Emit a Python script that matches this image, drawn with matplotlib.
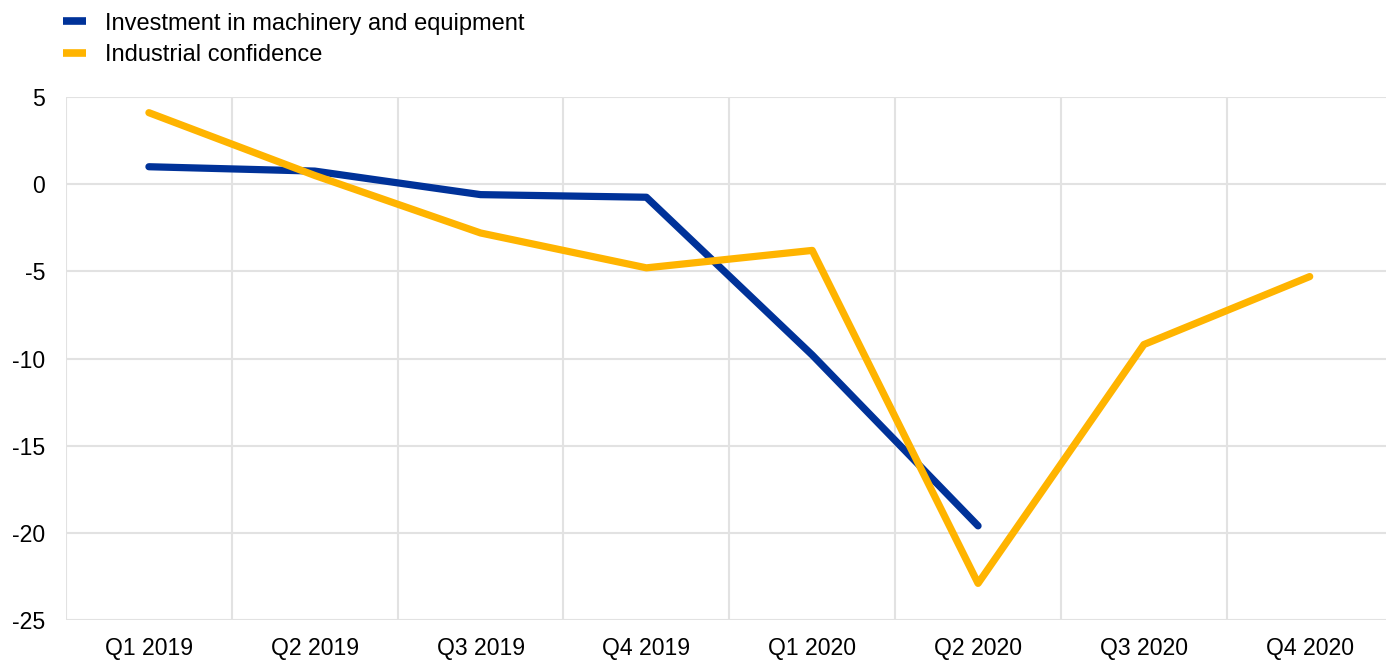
import matplotlib
matplotlib.use('Agg')
import matplotlib.pyplot as plt
import numpy as np

plt.rcParams['font.family'] = ['Liberation Sans', 'DejaVu Sans']
plt.rcParams['axes.unicode_minus'] = False

quarters = ['Q1 2019', 'Q2 2019', 'Q3 2019', 'Q4 2019',
            'Q1 2020', 'Q2 2020', 'Q3 2020', 'Q4 2020']
investment = [1.0, 0.75, -0.6, -0.75, -9.8, -19.6]
confidence = [4.1, 0.5, -2.8, -4.8, -3.8, -22.9, -9.2, -5.3]

BLUE = '#003299'
YELLOW = '#FFB400'
GRID = '#e2e2e2'

fig = plt.figure(figsize=(13.86, 6.6), dpi=100)
ax = fig.add_axes([66/1386, 1 - 620/660, 1 - 66/1386, (620-97)/660])

x = np.arange(len(quarters))
ax.plot(x[:len(investment)], investment, color=BLUE, lw=5.2,
        solid_capstyle='round', solid_joinstyle='round',
        label='Investment in machinery and equipment', zorder=3)
ax.plot(x, confidence, color=YELLOW, lw=5.2,
        solid_capstyle='round', solid_joinstyle='round',
        label='Industrial confidence', zorder=4)

ax.set_xlim(-0.5, 7.46)
ax.set_ylim(-25, 5)
ax.set_yticks(np.arange(-25, 6, 5))
ax.set_xticks(x)
ax.set_xticklabels(quarters)
ax.set_xticks(np.arange(-0.5, 7.5, 1), minor=True)

ax.grid(axis='y', which='major', color=GRID, lw=1.5)
ax.grid(axis='x', which='minor', color=GRID, lw=1.5)
ax.set_axisbelow(True)
for s in ax.spines.values():
    s.set_visible(False)
ax.tick_params(axis='both', which='both', length=0, labelsize=16.6, colors='#000000')
ax.tick_params(axis='y', pad=15)
ax.tick_params(axis='x', pad=12)

handles, labels = ax.get_legend_handles_labels()
leg = fig.legend(handles, labels, loc='upper left', bbox_to_anchor=(0.0385, 0.995),
                 frameon=False, fontsize=17, handlelength=1.0, handletextpad=0.8,
                 labelspacing=0.4, borderaxespad=0)
for line in leg.get_lines():
    line.set_linewidth(5.5)
    line.set_solid_capstyle('butt')

fig.savefig('out.png', dpi=100, facecolor='white')
